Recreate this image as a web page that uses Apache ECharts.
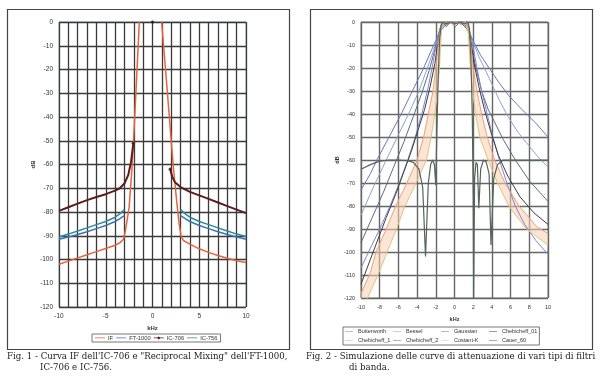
<!DOCTYPE html>
<html><head><meta charset="utf-8">
<script src="https://cdn.jsdelivr.net/npm/echarts@6/dist/echarts.min.js"></script>
<style>html,body{margin:0;padding:0;background:#fff}#c{width:600px;height:380px}</style>
</head><body><div id="c"></div>
<script>
// ---------- Fig. 1 data (kHz, dB) ----------
const fig1Legend = ['IF', 'FT-1000', 'IC-706', 'IC-756'];
const IF_left = [[-10,-102],[-9,-100.7],[-8,-99.3],[-7,-98],[-6,-96.7],[-5,-95.4],[-4,-94],[-3.5,-93],[-3.1,-91.5],[-2.9,-88],[-2.7,-83],[-2.5,-78],[-2.2,-62],[-1.9,-40],[-1.41,0]];
const IF_right = [[0.98,0],[1.6,-30],[2.0,-50],[2.3,-64],[2.6,-76],[2.85,-85],[3.05,-90],[3.3,-92],[4,-93.5],[5,-95.5],[6,-97],[7,-98.3],[8,-99.5],[9,-100.5],[10,-101.3]];
const FT1000_left = [[-10,-91.5],[-9,-90.5],[-8,-89.5],[-7,-88.3],[-6,-87],[-5,-85.7],[-4,-84],[-3.5,-82.8],[-3,-81.5]];
const FT1000_right = [[3,-81.5],[3.5,-82.8],[4,-84],[5,-85.7],[6,-87],[7,-88.3],[8,-89.5],[9,-90.5],[10,-91.5]];
const IC706_left = [[-10,-79.5],[-9,-78],[-8,-76.5],[-7,-75],[-6,-73.7],[-5,-72.5],[-4,-71],[-3.5,-70],[-3,-68],[-2.6,-64.5],[-2.3,-59],[-2.05,-51]];
const IC706_center = [[0,0]];
const IC706_right = [[1.9,-62],[2.1,-65],[2.4,-67.5],[3,-69.5],[4,-71.5],[5,-73],[6,-74.5],[7,-76],[8,-77.5],[9,-79],[10,-80.5]];
const IC756_left = [[-10,-90.5],[-9,-89.3],[-8,-88],[-7,-86.7],[-6,-85.3],[-5,-84],[-4,-82.2],[-3.5,-80.8],[-3,-79]];
const IC756_right = [[3,-79],[3.5,-80.8],[4,-82.2],[5,-84],[6,-85.3],[7,-86.7],[8,-88],[9,-89.3],[10,-90.3]];

// ---------- Fig. 2 data (kHz, dB) ----------
const fig2Legend = ['Butterworth','Bessel','Gaussian','Chebicheff_01','Chebicheff_1','Chebicheff_2','Costant-K','Cauer_60'];
const Gaussian = [[-10,-73],[-9,-66],[-8.3,-60],[-7,-50],[-5.7,-40],[-4.5,-30],[-3.3,-20],[-2.6,-13.5],[-2.0,-8],[-1.5,-4],[-1.0,-1.5],[-0.5,-0.4],[0,0],[0.5,-0.4],[1.0,-1.5],[1.5,-4],[2.1,-9],[2.8,-14.5],[3.7,-20],[4.7,-26],[5.8,-32],[7.2,-38],[8.7,-44],[10,-50]];
const Bessel = [[-10,-84],[-8.7,-72],[-7.3,-60],[-6.0,-49],[-4.8,-39],[-3.8,-30],[-2.9,-20],[-2.3,-13],[-1.9,-8],[-1.5,-3.5],[-1.1,-1.2],[-0.5,-0.2],[0,0],[0.5,-0.2],[1.1,-1.2],[1.5,-3.5],[2.0,-9],[2.6,-15],[3.2,-20],[4.0,-27],[4.8,-34],[5.7,-41],[6.8,-48],[8.0,-54],[9.0,-59],[10,-63]];
const Chebicheff_2 = [[-10,-96],[-8.8,-85],[-7.6,-74],[-6.5,-63],[-5.4,-52],[-4.4,-41],[-3.5,-31],[-2.7,-21],[-2.1,-12],[-1.7,-5],[-1.45,-1.5],[-1.3,0],[-0.9,-2],[-0.4,0],[0.1,-2],[0.6,0],[1.1,-2],[1.4,-0.8],[1.6,-4],[1.9,-12],[2.3,-20],[2.9,-30],[3.6,-38],[4.1,-42],[5.2,-51],[6.5,-60],[8.0,-69],[10,-78]];
const Chebicheff_01 = [[-10,-114],[-8.7,-100],[-7.3,-85],[-6.3,-75],[-5.4,-65],[-4.6,-56],[-3.9,-47],[-3.2,-38],[-2.6,-28],[-2.1,-18],[-1.75,-9],[-1.5,-3],[-1.3,-0.5],[-1,0],[0,-0.2],[1,0],[1.3,-0.5],[1.5,-3],[1.75,-9],[2.1,-18],[2.6,-28],[3.2,-38],[3.9,-48],[4.7,-58],[5.7,-67],[7.0,-76],[8.5,-83],[10,-88]];
const Butterworth = [[-10,-107],[-9.2,-100],[-8.0,-90],[-6.9,-80],[-5.9,-70],[-5.0,-60],[-4.2,-50],[-3.5,-40],[-2.9,-30],[-2.4,-20],[-2.0,-11],[-1.7,-5],[-1.4,-1.5],[-1.0,-0.3],[0,0],[1.0,-0.3],[1.4,-1.5],[1.7,-5],[2.0,-11],[2.4,-20],[2.9,-30],[3.5,-40],[4.1,-50],[4.8,-60],[5.6,-70],[6.5,-80],[7.5,-88],[8.7,-95],[10,-101]];
const Chebicheff_1 = [[-10,-118],[-9,-109],[-8.4,-100],[-7.3,-90],[-6.3,-80],[-5.1,-70],[-4.0,-60],[-3.3,-50],[-2.8,-40],[-2.3,-30],[-2.0,-20],[-1.75,-10],[-1.55,-4],[-1.4,-1],[-1.2,0],[-0.9,-1.2],[-0.5,0],[-0.1,-1.2],[0.3,0],[0.7,-1.2],[1.1,0],[1.4,-1],[1.55,-4],[1.75,-10],[2.0,-20],[2.4,-30],[2.9,-40],[3.5,-50],[4.3,-60],[5.4,-70],[6.9,-80],[8.8,-89],[10,-92]];
const Costant_K = [[-10,-126],[-9.3,-120],[-8.2,-110],[-7.2,-100],[-6.2,-90],[-5.3,-80],[-4.1,-70],[-3.0,-60],[-2.5,-50],[-2.1,-40],[-1.8,-30],[-1.6,-20],[-1.5,-10],[-1.4,-4],[-1.3,-1],[-1.1,0],[0,0],[1.1,0],[1.3,-1],[1.45,-4],[1.55,-10],[1.7,-20],[1.95,-30],[2.25,-40],[2.7,-50],[3.6,-60],[4.6,-70],[5.8,-80],[7.7,-90],[10,-97]];
const Cauer_60 = [[-10,-64],[-9,-62],[-8,-60.5],[-7,-60],[-6,-60],[-5,-60.3],[-4.4,-61],[-3.8,-64],[-3.4,-72],[-3.1,-102],[-2.8,-70],[-2.55,-62],[-2.35,-60],[-2.15,-62],[-2.0,-71],[-1.9,-50],[-1.75,-25],[-1.6,-8],[-1.45,-2],[-1.3,0],[-0.9,-0.8],[-0.4,0],[0.1,-0.8],[0.6,0],[1.1,-0.8],[1.45,0],[1.6,-3],[1.75,-15],[1.9,-40],[2.0,-75],[2.05,-120],[2.15,-68],[2.3,-61],[2.45,-62],[2.6,-81],[2.8,-64],[3.1,-60],[3.4,-61],[3.7,-66],[3.9,-97],[4.2,-68],[4.6,-62],[5.2,-60],[6,-60],[7,-60],[8,-60],[10,-60]];

const caption1 = ["Fig. 1 - Curva IF dell'IC-706 e \"Reciprocal Mixing\" dell'FT-1000,", "IC-706 e IC-756."];
const caption2 = ["Fig. 2 - Simulazione delle curve di attenuazione di vari tipi di filtri", "di banda."];

// ---------- build ----------
const chart = echarts.init(document.getElementById('c'), null, {renderer: 'canvas'});
const AX = '"Liberation Sans", Arial, sans-serif';

function ln(name, data, color, idx, width, extra) {
  return Object.assign({
    type: 'line', name, data, xAxisIndex: idx, yAxisIndex: idx,
    symbol: 'none', clip: true, animation: false,
    lineStyle: {color, width}, itemStyle: {color}
  }, extra || {});
}

// peach band between Chebicheff_1 and Costant-K on each side
const bandL = Chebicheff_1.filter(p => p[0] < -1.45).concat(Costant_K.filter(p => p[0] < -1.45).reverse());
const bandR = Chebicheff_1.filter(p => p[0] > 1.45).concat(Costant_K.filter(p => p[0] > 1.45).reverse());
const bands = [bandL, bandR];

// caption font size fitted to the caption width
const cv = document.createElement('canvas').getContext('2d');
const CAPF = '"DejaVu Serif", "Liberation Serif", serif';
cv.font = '10px ' + CAPF;
const capSize = Math.min(281 / cv.measureText(caption1[0]).width, 291 / cv.measureText(caption2[0]).width) * 10;
const capFont = capSize.toFixed(2) + 'px ' + CAPF;

const ic706Sym = (v) => (v[0] === -2.05 || v[0] === 1.9) ? 4 : 0;

// legend icons: thin line (bbox padded to full height) and line with diamond
const ICON_LINE = 'path://M0,0H0.01V0.01H0ZM0,5H0.01V5.01H0ZM0,1.9H16V3.1H0Z';
const ICON_DIAMOND = 'path://M0,0H0.01V0.01H0ZM0,5H0.01V5.01H0ZM0,1.9H5.5L8,0.2L10.5,1.9H16V3.1H10.5L8,4.8L5.5,3.1H0Z';

const option = {
  animation: false,
  backgroundColor: '#fff',
  grid: [
    {left: 59, top: 22, width: 187, height: 285, show: true, borderColor: '#90abc2', borderWidth: 1},
    {left: 361, top: 22, width: 187, height: 276, show: true, borderColor: '#808080', borderWidth: 1}
  ],
  xAxis: [
    {type: 'value', gridIndex: 0, min: -10, max: 10, interval: 1,
     name: 'kHz', nameLocation: 'middle', nameGap: 18,
     nameTextStyle: {fontSize: 6, fontWeight: 'bold', color: '#333', fontFamily: AX},
     axisLine: {show: false}, axisTick: {show: false},
     axisLabel: {fontSize: 6.5, color: '#333', margin: 6, fontFamily: AX, formatter: v => (v % 5 === 0 ? String(v) : '')},
     splitLine: {show: true, lineStyle: {color: '#3a3a3a', width: 1.3}}},
    {type: 'value', gridIndex: 1, min: -10, max: 10, interval: 2,
     name: 'kHz', nameLocation: 'middle', nameGap: 18,
     nameTextStyle: {fontSize: 5.5, fontWeight: 'bold', color: '#333', fontFamily: AX},
     axisLine: {show: false}, axisTick: {show: false},
     axisLabel: {fontSize: 5.5, color: '#333', margin: 6, fontFamily: AX},
     splitLine: {show: true, lineStyle: {color: '#666', width: 1.4}}}
  ],
  yAxis: [
    {type: 'value', gridIndex: 0, min: -120, max: 0, interval: 10,
     name: 'dB', nameLocation: 'middle', nameGap: 17, nameRotate: 90,
     nameTextStyle: {fontSize: 6, fontWeight: 'bold', color: '#333', fontFamily: AX},
     axisLine: {show: false}, axisTick: {show: false},
     axisLabel: {fontSize: 6.5, color: '#333', margin: 6, fontFamily: AX},
     splitLine: {show: true, lineStyle: {color: '#3a3a3a', width: 1.3}}},
    {type: 'value', gridIndex: 1, min: -120, max: 0, interval: 10,
     name: 'dB', nameLocation: 'middle', nameGap: 14, nameRotate: 90,
     nameTextStyle: {fontSize: 5.5, fontWeight: 'bold', color: '#333', fontFamily: AX},
     axisLine: {show: false}, axisTick: {show: false},
     axisLabel: {fontSize: 5.5, color: '#333', margin: 6, fontFamily: AX},
     splitLine: {show: true, lineStyle: {color: '#666', width: 1.4}}}
  ],
  legend: [
    {data: fig1Legend.map(n => n === 'IC-706' ? {name: n, icon: ICON_DIAMOND} : {name: n}),
     icon: ICON_LINE, left: 92, top: 334, orient: 'horizontal', padding: [1, 3], itemGap: 3,
     itemWidth: 10, itemHeight: 5, borderColor: '#555', borderWidth: 0.8,
     textStyle: {fontSize: 5.8, color: '#333', fontFamily: AX, padding: [0, 0, 0, -2]}},
    {data: fig2Legend, icon: ICON_LINE, left: 343, top: 327, width: 206, padding: [1, 2], itemGap: 1,
     itemWidth: 8, itemHeight: 5, borderColor: '#555', borderWidth: 0.8,
     textStyle: {fontSize: 5.5, color: '#333', fontFamily: AX, width: 34, lineHeight: 7.5}}
  ],
  series: [
    ln('IF', IF_left, '#e4643f', 0, 1.5),
    ln('IF', IF_right, '#e4643f', 0, 1.5),
    ln('FT-1000', FT1000_left, '#3f72b8', 0, 1.5),
    ln('FT-1000', FT1000_right, '#3f72b8', 0, 1.5),
    ln('IC-706', IC706_left, '#5b1c1c', 0, 2, {symbol: 'diamond', showAllSymbol: true, symbolSize: ic706Sym}),
    ln('IC-706', IC706_right, '#5b1c1c', 0, 2, {symbol: 'diamond', showAllSymbol: true, symbolSize: ic706Sym}),
    ln('IC-706', IC706_center, '#222', 0, 2, {symbol: 'circle', symbolSize: 3}),
    ln('IC-756', IC756_left, '#2e8b8e', 0, 1.5),
    ln('IC-756', IC756_right, '#2e8b8e', 0, 1.5),
    {type: 'custom', name: 'band', xAxisIndex: 1, yAxisIndex: 1, data: [[0, 0], [1, 0]], z: 1,
     silent: true, animation: false,
     renderItem: function (params, api) {
       const pts = bands[params.dataIndex].map(p => api.coord(p));
       const cs = params.coordSys;
       return {type: 'polygon', shape: {points: pts}, style: {fill: 'rgba(248,208,182,0.55)'},
               clipPath: {type: 'rect', shape: {x: cs.x, y: cs.y, width: cs.width, height: cs.height}}};
     }},
    ln('Gaussian', Gaussian, '#6a76bf', 1, 1),
    ln('Bessel', Bessel, '#8ea3c9', 1, 1),
    ln('Chebicheff_2', Chebicheff_2, '#5c6b85', 1, 1),
    ln('Butterworth', Butterworth, '#7d86d8', 1, 1),
    ln('Chebicheff_01', Chebicheff_01, '#3c3c3c', 1, 1),
    ln('Chebicheff_1', Chebicheff_1, '#f0a070', 1, 1),
    ln('Costant-K', Costant_K, '#e3c27a', 1, 1),
    ln('Cauer_60', Cauer_60, '#55645a', 1, 1.2)
  ],
  graphic: [
    {type: 'rect', shape: {x: 7.5, y: 9.5, width: 282, height: 340}, style: {fill: 'none', stroke: '#444', lineWidth: 1.2}, z: 0},
    {type: 'rect', shape: {x: 310.5, y: 9.5, width: 282, height: 340}, style: {fill: 'none', stroke: '#444', lineWidth: 1.2}, z: 0},
    {type: 'text', x: 7, y: 352, style: {text: caption1[0], font: capFont, fill: '#222'}},
    {type: 'text', x: 40, y: 363, style: {text: caption1[1], font: capFont, fill: '#222'}},
    {type: 'text', x: 306, y: 352, style: {text: caption2[0], font: capFont, fill: '#222'}},
    {type: 'text', x: 349, y: 363, style: {text: caption2[1], font: capFont, fill: '#222'}}
  ]
};
chart.setOption(option);
</script>
</body></html>
